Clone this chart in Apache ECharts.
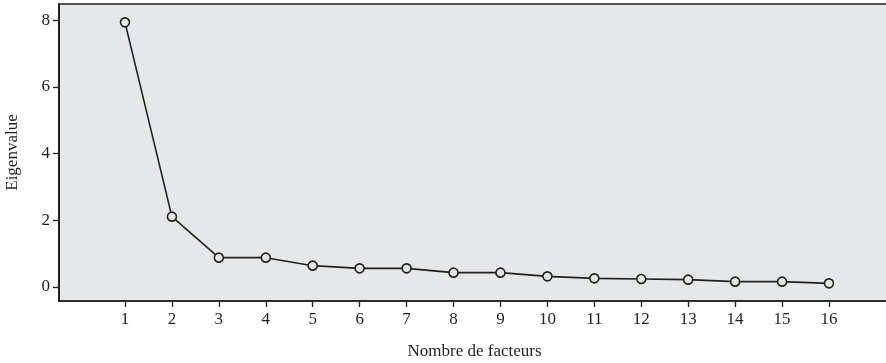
<!DOCTYPE html>
<html>
<head>
<meta charset="utf-8">
<script src="https://cdn.jsdelivr.net/npm/echarts@6/dist/echarts.min.js"></script>
<style>html,body{margin:0;padding:0;background:#fff}#c{width:886px;height:363px}</style>
</head>
<body>
<div id="c"></div>
<script>
const factors = [1,2,3,4,5,6,7,8,9,10,11,12,13,14,15,16];
const eigenvalues = [7.94,2.11,0.88,0.88,0.64,0.56,0.56,0.43,0.43,0.32,0.26,0.24,0.22,0.16,0.16,0.11];
const yTicks = [0,2,4,6,8];
const xTicks = factors;

const ink = '#231f20';
const font = 'Liberation Serif';
const chart = echarts.init(document.getElementById('c'), null, {renderer:'canvas'});
chart.setOption({
  animation:false,
  backgroundColor:'#ffffff',
  grid:{left:59, right:-4, top:4, bottom:62, outerBoundsMode:'none', containLabel:false, show:true, backgroundColor:'#e6e7e9', borderColor:ink, borderWidth:1.6},
  xAxis:{
    type:'value', min:-0.406, max:17.30,
    name:'Nombre de facteurs', nameLocation:'middle', nameGap:42,
    nameTextStyle:{fontFamily:font, fontSize:17, color:ink},
    axisLine:{show:true, onZero:false, lineStyle:{color:ink, width:1.6}},
    axisTick:{show:true, length:6, customValues:xTicks, lineStyle:{color:ink, width:1.3}},
    axisLabel:{customValues:xTicks, fontFamily:font, fontSize:17, color:ink, margin:10},
    splitLine:{show:false}
  },
  yAxis:{
    type:'value', min:-0.42, max:8.49,
    name:'Eigenvalue', nameLocation:'middle', nameGap:38,
    nameTextStyle:{fontFamily:font, fontSize:17, color:ink},
    axisLine:{show:true, onZero:false, lineStyle:{color:ink, width:2}},
    axisTick:{show:true, length:6, customValues:yTicks, lineStyle:{color:ink, width:1.3}},
    axisLabel:{customValues:yTicks, fontFamily:font, fontSize:17, color:ink, margin:9},
    splitLine:{show:false}
  },
  series:[{
    type:'line',
    data:factors.map((f,i)=>[f, eigenvalues[i]]),
    symbol:'circle', symbolSize:9, showAllSymbol:true,
    lineStyle:{color:ink, width:1.6},
    itemStyle:{color:'#e6e7e9', borderColor:ink, borderWidth:1.6}
  }]
});
</script>
</body>
</html>
